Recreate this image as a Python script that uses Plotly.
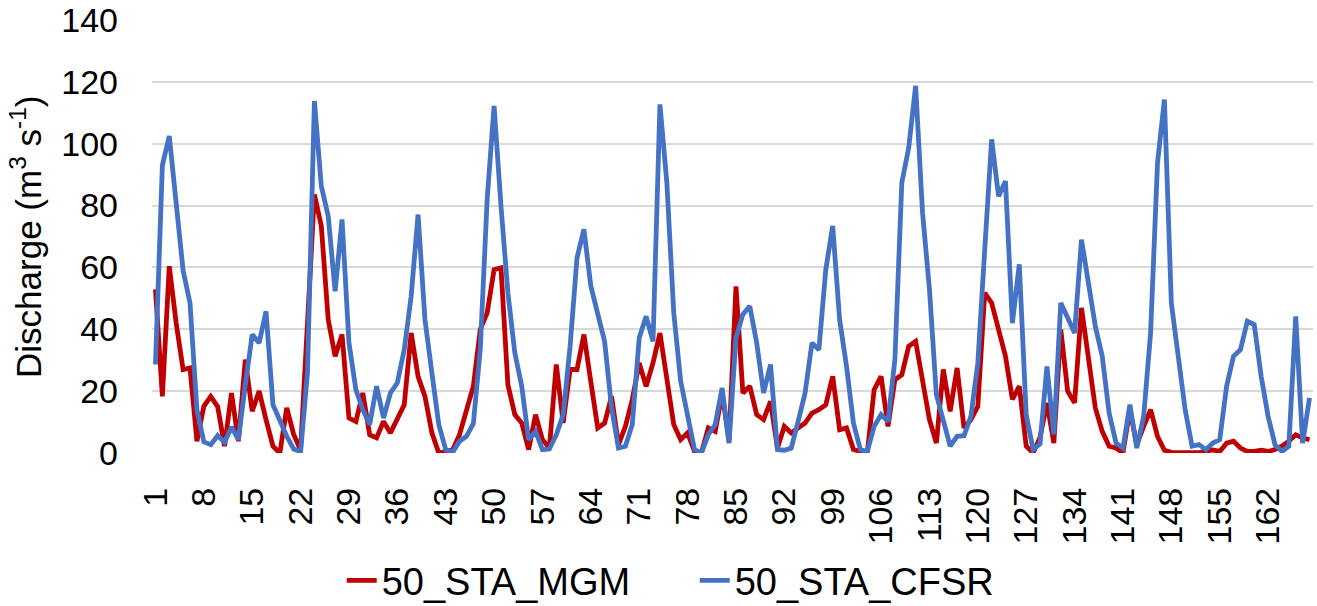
import plotly.graph_objects as go

months = list(range(1, 169))

mgm = [52.9, 18.3, 60.4, 42, 27, 27.5, 3.8, 15.1, 18.3, 15,
       2.2, 19.4, 3.8, 30.2, 13.5, 20, 10.8, 2.2, 0, 14.6,
       6, 1, 42, 83.6, 73.4, 43.1, 31.3, 38.3, 11.3, 10.2,
       19.4, 5.9, 4.9, 10.2, 6.5, 10.8, 15.6, 38.8, 24.8, 18.3,
       6.5, 0, 0.5, 1, 5.9, 13.5, 21.6, 40, 45.3, 59.3,
       59.9, 22.1, 12.4, 9.7, 1.1, 12.4, 4.3, 1.6, 28.6, 9.7,
       27, 27, 38.3, 23, 8.1, 9.7, 18.3, 2.7, 8.6, 17.3,
       29.1, 21.6, 29.1, 38.8, 23.7, 9.2, 4.3, 6.5, 0.5, 0,
       8.1, 7, 19.4, 3.8, 53.9, 19.4, 21.6, 12.4, 10.8, 16.7,
       1.6, 8.6, 6.5, 8.1, 9.7, 12.9, 14, 15.6, 24.8, 7.5,
       8.1, 1.1, 0.5, 0, 20.5, 24.8, 8.6, 23.7, 25.3, 34.5,
       36.1, 23.7, 10.8, 3.2, 27, 13.5, 27.5, 8.1, 10.8, 15.1,
       51.8, 48.5, 39.9, 31.3, 17.3, 21.6, 2.2, 0, 5, 16.2,
       3.2, 39.9, 20, 16.2, 46.9, 30.2, 14.6, 7, 2.2, 1.6,
       0, 14, 2.7, 8.6, 14, 5.4, 0.9, 0.2, 0.2, 0.1,
       0.1, 0.1, 0.5, 1, 0.5, 3.2, 3.8, 1.6, 0.5, 0.5,
       0.9, 0.5, 1.1, 2.2, 3.8, 5.9, 4.9, 4.3]

cfsr = [28.6, 93, 102.5, 80, 59, 48.5, 14, 3.6, 2.7, 5.6,
        3.5, 8.4, 4.3, 22, 38.3, 35.6, 45.8, 15.6, 10.2, 5.4,
        1.3, 0.4, 26, 113.8, 86.3, 76.6, 52.3, 75.5, 35.6, 20.5,
        14, 9.2, 21.6, 11.3, 19.4, 22.7, 33.4, 50.7, 77.1, 43.1,
        25.9, 9.2, 1.1, 0.2, 3.8, 5.4, 9.5, 33.4, 82, 112.2,
        79.8, 51.8, 32.4, 21.6, 4.3, 7, 1.1, 1.3, 5.9, 12.4,
        34.5, 63.1, 72.3, 54, 45, 36, 14.6, 1.6, 2.2, 9.2,
        37.2, 44.2, 36.1, 112.7, 87.4, 45.3, 23.2, 12.4, 1.1, 0,
        5.9, 9.2, 21, 3.2, 37.2, 44.8, 47.5, 35.6, 19.4, 28.6,
        1.1, 0.9, 1.6, 10.2, 19.4, 35.6, 33.4, 59.3, 73.4, 43.1,
        28, 9.7, 1.1, 0.5, 8.6, 12.4, 10.2, 30.2, 87.4, 98.7,
        118.7, 77.7, 52.9, 18.9, 10.2, 2.2, 5.4, 5.6, 11.9, 29.1,
        65.8, 101.4, 83, 87.9, 42, 61, 12.4, 1.1, 3, 28,
        6, 48.5, 43.7, 38.8, 69, 53.9, 41, 31.3, 12.9, 3.2,
        1.6, 15.6, 1.6, 11.9, 38.8, 93.8, 114.3, 48.5, 30, 14,
        2.2, 2.7, 1.1, 3.2, 4.3, 21.6, 31.3, 33.4, 42.6, 41.5,
        24.8, 11.9, 2.7, 0.5, 2.2, 44.2, 3.2, 17.8]

x_ticks = list(range(1, 169, 7))
y_ticks = list(range(0, 141, 20))

FONT = "Liberation Sans, Arial, sans-serif"

fig = go.Figure()
fig.add_trace(go.Scatter(x=months, y=mgm, mode="lines", name="50_STA_MGM",
                         line=dict(color="#C00000", width=4.8)))
fig.add_trace(go.Scatter(x=months, y=cfsr, mode="lines", name="50_STA_CFSR",
                         line=dict(color="#4472C4", width=4.8)))

fig.update_layout(
    width=1317, height=606,
    margin=dict(l=152, r=4, t=20, b=153, autoexpand=False),
    paper_bgcolor="white", plot_bgcolor="white",
    font=dict(family=FONT, size=34, color="#000000"),
    showlegend=True,
    legend=dict(orientation="h", xref="container", x=0.5275, xanchor="center",
                y=-0.222, yanchor="top", font=dict(size=38, family=FONT),
                entrywidth=308, entrywidthmode="pixels",
                bgcolor="rgba(0,0,0,0)"),
    annotations=[dict(text="Discharge (m<sup>3</sup> s<sup>-1</sup>)",
                      xref="paper", yref="paper", x=-0.109, y=0.5,
                      xanchor="center", yanchor="middle", textangle=-90,
                      showarrow=False, font=dict(size=35, family=FONT))],
)
fig.update_xaxes(range=[0.5, 168.5], tickmode="array", tickvals=x_ticks,
                 ticktext=[str(v) for v in x_ticks], tickangle=-90,
                 showgrid=False, zeroline=False, showline=False,
                 ticks="", ticklabelstandoff=27,
                 tickfont=dict(size=34, family=FONT))
fig.update_yaxes(range=[0, 140], tickmode="array", tickvals=y_ticks,
                 showgrid=True, gridcolor="#D9D9D9", gridwidth=1.5,
                 zeroline=False, showline=False, ticks="",
                 ticklabelstandoff=33, tickfont=dict(size=34, family=FONT))

fig.write_html("out.html")
